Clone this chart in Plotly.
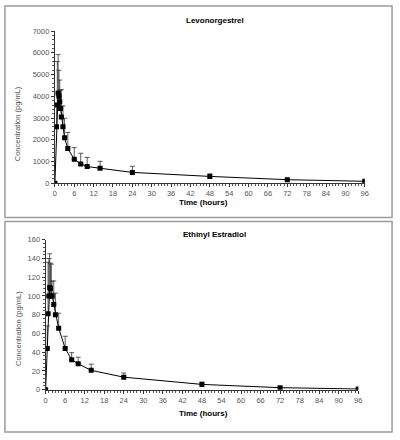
import plotly.graph_objects as go

# ---- data ----
time_lng = [0, 0.5, 0.75, 1, 1.25, 1.5, 1.75, 2, 2.5, 3, 4, 6, 8, 10, 14, 24, 48, 72, 96]
conc_lng = [0, 2600, 3600, 4150, 4000, 3750, 3440, 3050, 2600, 2090, 1600, 1100, 890, 770, 690, 500, 315, 165, 90]
sd_lng = [0, 1000, 2000, 1770, 1200, 1000, 860, 1250, 960, 900, 740, 540, 490, 420, 320, 280, 120, 50, 50]

time_ee = [0, 0.5, 0.75, 1, 1.25, 1.5, 1.75, 2, 2.5, 3, 4, 6, 8, 10, 14, 24, 48, 72, 96]
conc_ee = [0, 44, 81, 100, 109, 108, 100, 100, 91, 80, 65.6, 44, 32, 27.6, 20.6, 13.3, 5.6, 2.1, 0.7]
sd_ee = [0, 24, 55, 40, 36, 27, 34, 16, 25, 23, 16, 13, 7.5, 7, 6.6, 4.5, 2.5, 1, 0.5]

x_ticks = list(range(0, 97, 6))
title_top = "Levonorgestrel"
title_bottom = "Ethinyl Estradiol"
x_title = "Time (hours)"
y_title = "Concentration (pg/mL)"

W, H = 400, 440
FONT = "Liberation Sans Narrow, Liberation Sans, Arial"


def px(x):
    return x / W


def py(y):
    return 1 - y / H


fig = go.Figure()

common_trace = dict(
    mode="lines+markers",
    line=dict(color="black", width=1),
    marker=dict(symbol="square", size=5, color="black"),
    showlegend=False,
)

fig.add_trace(go.Scatter(
    x=time_lng, y=conc_lng, xaxis="x", yaxis="y",
    error_y=dict(type="data", array=sd_lng, arrayminus=[0] * len(sd_lng), symmetric=False,
                 color="#333", thickness=0.8, width=2.5),
    **common_trace))

fig.add_trace(go.Scatter(
    x=time_ee, y=conc_ee, xaxis="x2", yaxis="y2",
    error_y=dict(type="data", array=sd_ee, arrayminus=[0] * len(sd_ee), symmetric=False,
                 color="#333", thickness=0.8, width=2.5),
    **common_trace))

xaxis_common = dict(
    range=[0, 96], tickvals=x_ticks, ticks="outside", ticklen=3, tickwidth=1,
    tickcolor="#333", showline=True, linecolor="#333", linewidth=1,
    showgrid=False, zeroline=False,
    tickfont=dict(family=FONT, size=7.5, color="#555555"),
    minor=dict(dtick=1, ticks="outside", ticklen=2, tickcolor="#555", showgrid=False),
)
yaxis_common = dict(
    ticks="outside", ticklen=3, tickwidth=1, tickcolor="#333",
    showline=True, linecolor="#333", linewidth=1,
    showgrid=False, zeroline=False,
    tickfont=dict(family=FONT, size=7.5, color="#555555"),
)

fig.update_layout(
    width=W, height=H, autosize=False,
    margin=dict(l=0, r=0, t=0, b=0),
    paper_bgcolor="white", plot_bgcolor="white",
    xaxis=dict(domain=[px(53.7), px(368.3)], anchor="y", **xaxis_common),
    yaxis=dict(domain=[py(183), py(27.7)], anchor="x", range=[0, 7000], dtick=1000,
               minor=dict(dtick=200, ticks="outside", ticklen=2, tickcolor="#555", showgrid=False),
               **yaxis_common),
    xaxis2=dict(domain=[px(44.3), px(361.7)], anchor="y2", **xaxis_common),
    yaxis2=dict(domain=[py(393.7), py(240.7)], anchor="x2", range=[0, 160], dtick=20,
                minor=dict(dtick=4, ticks="outside", ticklen=2, tickcolor="#555", showgrid=False),
                **yaxis_common),
)

# panel borders
for (x0, y0, x1, y1) in [(3, 2, 396, 218), (3, 222, 396, 437)]:
    fig.add_shape(type="rect", xref="paper", yref="paper",
                  x0=px(x0), x1=px(x1), y0=py(y1), y1=py(y0),
                  line=dict(color="#9a9a9a", width=1.5), fillcolor="rgba(0,0,0,0)")

ann = []
ann.append(dict(text="<b>" + title_top + "</b>", x=px(216), y=py(17)))
ann.append(dict(text="<b>" + title_bottom + "</b>", x=px(216), y=py(235)))
ann.append(dict(text="<b>" + x_title + "</b>", x=px(205), y=py(203)))
ann.append(dict(text="<b>" + x_title + "</b>", x=px(205), y=py(418)))
for a in ann:
    fig.add_annotation(xref="paper", yref="paper", xanchor="center", yanchor="middle",
                       showarrow=False, font=dict(family=FONT, size=8, color="black"), **a)
for ycen in [122, 331]:
    fig.add_annotation(xref="paper", yref="paper", x=px(16), y=py(ycen),
                       xanchor="center", yanchor="middle", textangle=-90, showarrow=False,
                       text=y_title, font=dict(family=FONT, size=7.5, color="#555555"))

fig.write_html(
    "out.html",
    config={"displayModeBar": False},
    post_script="document.body.style.margin='0';document.body.style.padding='0';"
                "document.documentElement.style.overflow='hidden';",
)
